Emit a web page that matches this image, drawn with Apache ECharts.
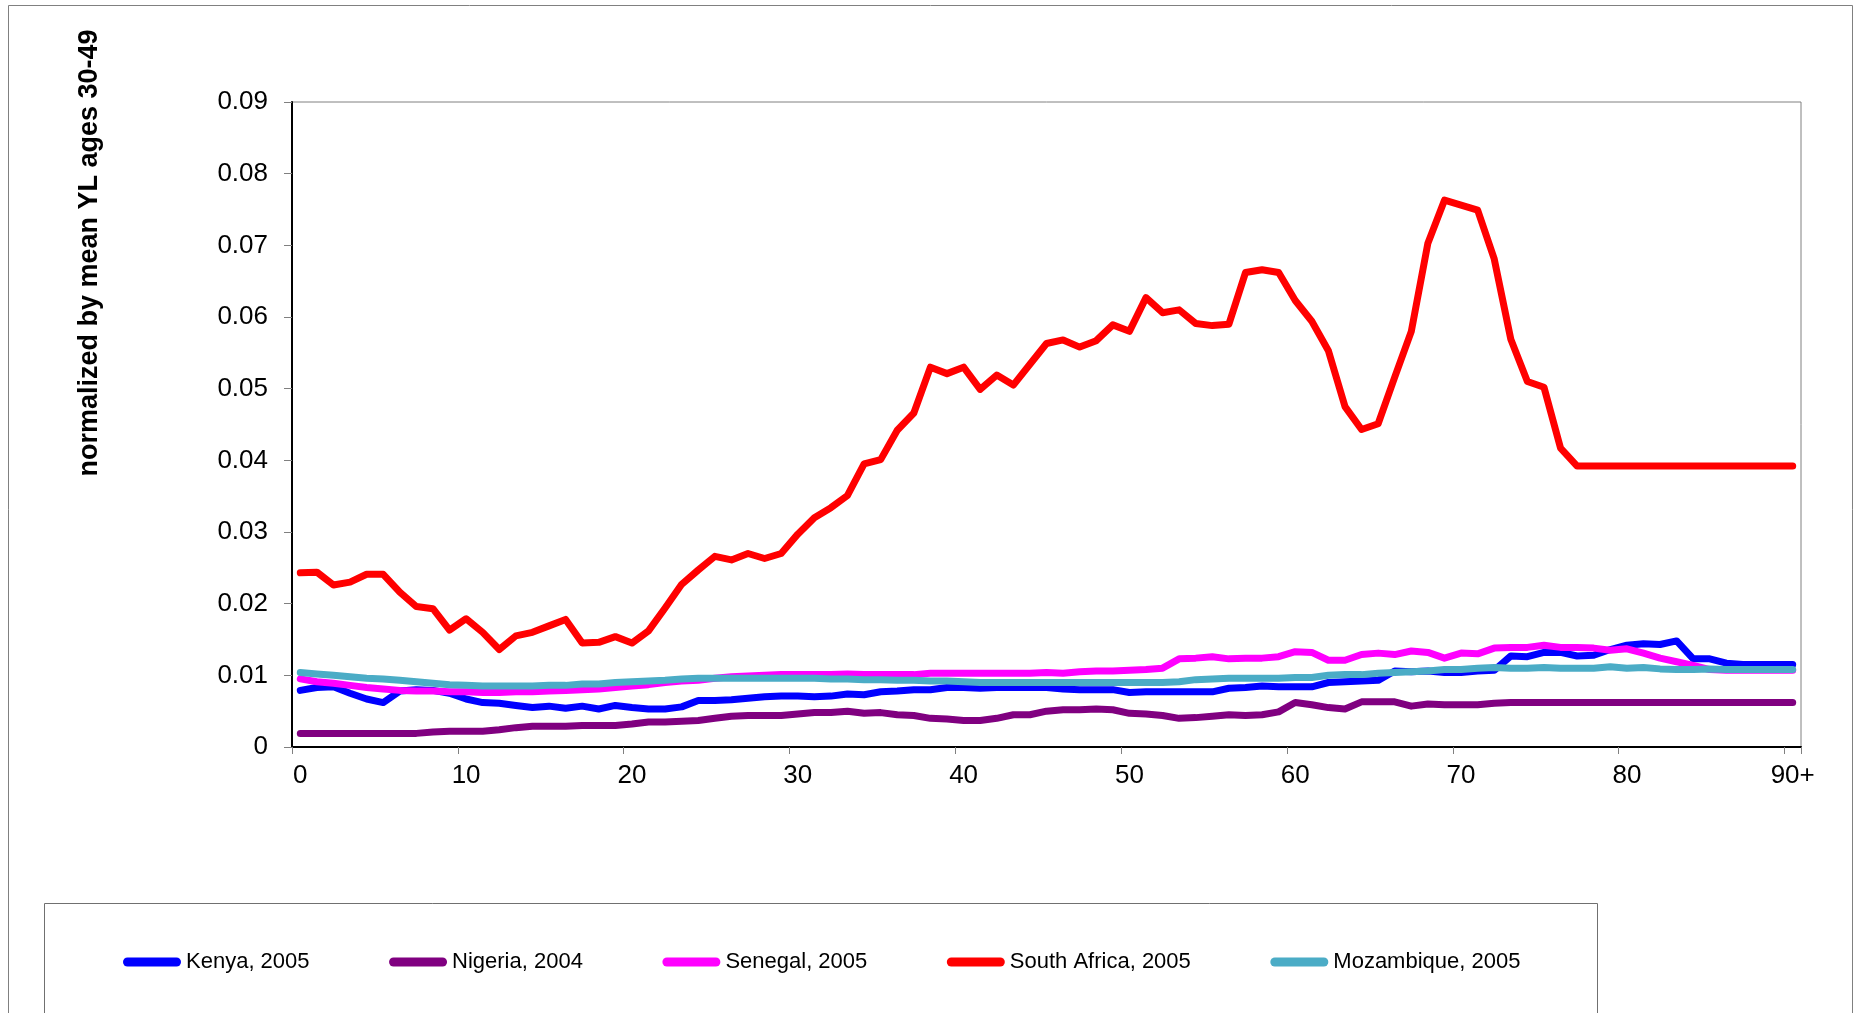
<!DOCTYPE html>
<html>
<head>
<meta charset="utf-8">
<script src="https://cdn.jsdelivr.net/npm/echarts@6/dist/echarts.min.js"></script>
<style>
html,body{margin:0;padding:0;background:#fff;}
#chart{width:1858px;height:1013px;}
</style>
</head>
<body>
<div id="chart"></div>
<script>
// Age categories 0..89 and 90+
var ages = [];
for (var a = 0; a < 90; a++) ages.push(String(a));
ages.push('90+');

var yTitle = 'normalized by mean YL ages 30-49';
var seriesNames = ['Kenya, 2005', 'Nigeria, 2004', 'Senegal, 2005', 'South Africa, 2005', 'Mozambique, 2005'];

var kenya = [
  0.0079, 0.0083, 0.0084, 0.0075, 0.0067, 0.0062, 0.0078, 0.0080, 0.0079, 0.0075,
  0.0067, 0.0062, 0.0061, 0.0058, 0.0055, 0.0057, 0.0054, 0.0057, 0.0053, 0.0058,
  0.0055, 0.0053, 0.0053, 0.0056, 0.0065, 0.0065, 0.0066, 0.0068, 0.0070, 0.0071,
  0.0071, 0.0070, 0.0071, 0.0074, 0.0073, 0.0077, 0.0078, 0.0080, 0.0080, 0.0083,
  0.0083, 0.0082, 0.0083, 0.0083, 0.0083, 0.0083, 0.0081, 0.0080, 0.0080, 0.0080,
  0.0076, 0.0077, 0.0077, 0.0077, 0.0077, 0.0077, 0.0082, 0.0083, 0.0085, 0.0084,
  0.0084, 0.0084, 0.0090, 0.0091, 0.0092, 0.0093, 0.0106, 0.0105, 0.0106, 0.0104,
  0.0104, 0.0106, 0.0107, 0.0127, 0.0126, 0.0132, 0.0132, 0.0127, 0.0128, 0.0136,
  0.0142, 0.0144, 0.0143, 0.0148, 0.0123, 0.0123, 0.0117, 0.0115, 0.0115, 0.0115,
  0.0115
];

var nigeria = [
  0.0019, 0.0019, 0.0019, 0.0019, 0.0019, 0.0019, 0.0019, 0.0019, 0.0021, 0.0022,
  0.0022, 0.0022, 0.0024, 0.0027, 0.0029, 0.0029, 0.0029, 0.0030, 0.0030, 0.0030,
  0.0032, 0.0035, 0.0035, 0.0036, 0.0037, 0.0040, 0.0043, 0.0044, 0.0044, 0.0044,
  0.0046, 0.0048, 0.0048, 0.0050, 0.0047, 0.0048, 0.0045, 0.0044, 0.0040, 0.0039,
  0.0037, 0.0037, 0.0040, 0.0045, 0.0045, 0.0050, 0.0052, 0.0052, 0.0053, 0.0052,
  0.0047, 0.0046, 0.0044, 0.0040, 0.0041, 0.0043, 0.0045, 0.0044, 0.0045, 0.0049,
  0.0062, 0.0059, 0.0055, 0.0053, 0.0063, 0.0063, 0.0063, 0.0057, 0.0060, 0.0059,
  0.0059, 0.0059, 0.0061, 0.0062, 0.0062, 0.0062, 0.0062, 0.0062, 0.0062, 0.0062,
  0.0062, 0.0062, 0.0062, 0.0062, 0.0062, 0.0062, 0.0062, 0.0062, 0.0062, 0.0062,
  0.0062
];

var senegal = [
  0.0095, 0.0091, 0.0089, 0.0086, 0.0083, 0.0081, 0.0079, 0.0078, 0.0078, 0.0077,
  0.0077, 0.0076, 0.0076, 0.0077, 0.0077, 0.0078, 0.0079, 0.0080, 0.0081, 0.0083,
  0.0085, 0.0087, 0.0090, 0.0092, 0.0093, 0.0096, 0.0098, 0.0099, 0.0100, 0.0101,
  0.0101, 0.0101, 0.0101, 0.0102, 0.0101, 0.0101, 0.0101, 0.0101, 0.0103, 0.0103,
  0.0103, 0.0103, 0.0103, 0.0103, 0.0103, 0.0104, 0.0103, 0.0105, 0.0106, 0.0106,
  0.0107, 0.0108, 0.0110, 0.0123, 0.0124, 0.0126, 0.0123, 0.0124, 0.0124, 0.0126,
  0.0133, 0.0132, 0.0121, 0.0121, 0.0129, 0.0131, 0.0129, 0.0134, 0.0132, 0.0124,
  0.0131, 0.0130, 0.0138, 0.0139, 0.0139, 0.0142, 0.0139, 0.0139, 0.0138, 0.0135,
  0.0137, 0.0131, 0.0124, 0.0119, 0.0114, 0.0108, 0.0107, 0.0107, 0.0107, 0.0107,
  0.0107
];

var southAfrica = [
  0.0243, 0.0244, 0.0226, 0.0230, 0.0241, 0.0241, 0.0216, 0.0196, 0.0193, 0.0163,
  0.0179, 0.0160, 0.0136, 0.0155, 0.0160, 0.0169, 0.0178, 0.0145, 0.0146, 0.0154,
  0.0145, 0.0162, 0.0194, 0.0227, 0.0247, 0.0266, 0.0261, 0.0270, 0.0263, 0.0270,
  0.0297, 0.0320, 0.0334, 0.0351, 0.0395, 0.0401, 0.0442, 0.0466, 0.0530, 0.0521,
  0.0530, 0.0499, 0.0519, 0.0505, 0.0534, 0.0563, 0.0568, 0.0558, 0.0567, 0.0589,
  0.0580, 0.0627, 0.0606, 0.0610, 0.0591, 0.0588, 0.0590, 0.0662, 0.0666, 0.0662,
  0.0623, 0.0594, 0.0553, 0.0475, 0.0443, 0.0451, 0.0516, 0.0580, 0.0703, 0.0763,
  0.0756, 0.0749, 0.0681, 0.0569, 0.0510, 0.0502, 0.0417, 0.0392, 0.0392, 0.0392,
  0.0392, 0.0392, 0.0392, 0.0392, 0.0392, 0.0392, 0.0392, 0.0392, 0.0392, 0.0392,
  0.0392
];

var mozambique = [
  0.0104, 0.0102, 0.0100, 0.0098, 0.0096, 0.0095, 0.0093, 0.0091, 0.0089, 0.0087,
  0.0086, 0.0085, 0.0085, 0.0085, 0.0085, 0.0086, 0.0086, 0.0088, 0.0088, 0.0090,
  0.0091, 0.0092, 0.0093, 0.0095, 0.0096, 0.0096, 0.0096, 0.0096, 0.0096, 0.0096,
  0.0096, 0.0096, 0.0095, 0.0095, 0.0094, 0.0094, 0.0093, 0.0093, 0.0092, 0.0092,
  0.0091, 0.0090, 0.0090, 0.0090, 0.0090, 0.0090, 0.0090, 0.0090, 0.0090, 0.0090,
  0.0090, 0.0090, 0.0090, 0.0091, 0.0094, 0.0095, 0.0096, 0.0096, 0.0096, 0.0096,
  0.0097, 0.0097, 0.0100, 0.0101, 0.0101, 0.0103, 0.0104, 0.0105, 0.0106, 0.0108,
  0.0108, 0.0110, 0.0111, 0.0110, 0.0110, 0.0111, 0.0110, 0.0110, 0.0110, 0.0112,
  0.0110, 0.0111, 0.0109, 0.0108, 0.0108, 0.0109, 0.0108, 0.0108, 0.0108, 0.0108,
  0.0108
];

var colors = ['#0000FF', '#800080', '#FF00FF', '#FF0000', '#4BACC6'];
var seriesData = [kenya, nigeria, senegal, southAfrica, mozambique];

var FONT = '"Liberation Sans", Arial, sans-serif';

var chart = echarts.init(document.getElementById('chart'), null, {renderer: 'canvas'});

var series = seriesNames.map(function (name, i) {
  return {
    name: name,
    type: 'line',
    data: seriesData[i],
    showSymbol: false,
    symbol: 'none',
    smooth: false,
    animation: false,
    lineStyle: {color: colors[i], width: 7, cap: 'round', join: 'round'},
    itemStyle: {color: colors[i]},
    emphasis: {disabled: true}
  };
});

chart.setOption({
  animation: false,
  backgroundColor: '#ffffff',
  grid: {
    left: 292, top: 102, width: 1509, height: 645,
    show: true, borderColor: '#808080', borderWidth: 1, backgroundColor: 'transparent'
  },
  legend: {
    data: seriesNames,
    left: 118,
    top: 946,
    itemWidth: 58,
    itemHeight: 9,
    itemGap: 79.5,
    icon: 'path://M4.5,0 L53.5,0 A4.5,4.5 0 0 1 53.5,9 L4.5,9 A4.5,4.5 0 0 1 4.5,0 Z',
    textStyle: {fontFamily: FONT, fontSize: 22, color: '#000'},
    selectedMode: false
  },
  xAxis: {
    type: 'category',
    data: ages,
    boundaryGap: true,
    axisLine: {show: true, lineStyle: {color: '#000', width: 2}},
    axisTick: {show: true, interval: 9, length: 7, alignWithLabel: false, lineStyle: {color: '#808080'}},
    axisLabel: {interval: 9, margin: 16, fontFamily: FONT, fontSize: 26, color: '#000'},
    splitLine: {show: false}
  },
  yAxis: {
    type: 'value',
    min: 0, max: 0.09, interval: 0.01,
    axisLine: {show: true, lineStyle: {color: '#000', width: 2}},
    axisTick: {show: true, length: 8, lineStyle: {color: '#808080'}},
    axisLabel: {
      margin: 24, fontFamily: FONT, fontSize: 26, color: '#000',
      formatter: function (v) { return v === 0 ? '0' : v.toFixed(2); }
    },
    splitLine: {show: false}
  },
  graphic: [
    {
      type: 'rect', silent: true, z: -10,
      shape: {x: 8.5, y: 5.5, width: 1844, height: 1030},
      style: {fill: 'none', stroke: '#808080', lineWidth: 1}
    },
    {
      type: 'rect', silent: true, z: -10,
      shape: {x: 44.5, y: 903.5, width: 1553, height: 200},
      style: {fill: 'none', stroke: '#707070', lineWidth: 1}
    },
    {
      type: 'text', silent: true,
      x: 90, y: 253, rotation: Math.PI / 2,
      style: {
        text: yTitle, fontFamily: FONT, fontWeight: 'bold', fontSize: 27,
        fill: '#000', align: 'center', verticalAlign: 'middle'
      }
    }
  ],
  series: series
});
</script>
</body>
</html>
